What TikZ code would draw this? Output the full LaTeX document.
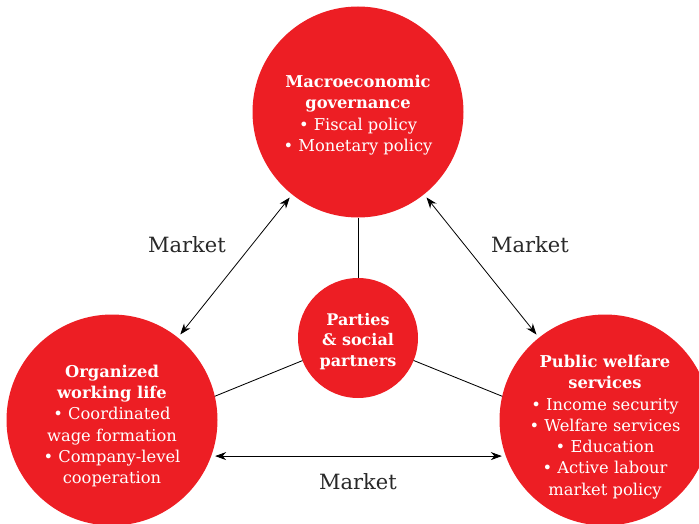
\documentclass[tikz,border=0pt]{standalone}
\usepackage{fontspec}
\setmainfont{DejaVu Serif}
\usepackage{tikz}
\usetikzlibrary{arrows.meta}

\begin{document}
\begin{tikzpicture}[x=1pt, y=-1pt,
    bigcircle/.style={circle, fill=myred, minimum size=211pt, inner sep=0pt, outer sep=0pt},
    smallcircle/.style={circle, fill=myred, minimum size=120pt, inner sep=0pt, outer sep=0pt},
    bigtext/.style={text=white, align=center, font=\fontsize{16.3}{21.3}\selectfont},
    smalltext/.style={text=white, align=center, font=\fontsize{16}{20.5}\selectfont\bfseries},
    market/.style={text=mygray, font=\fontsize{21}{24}\selectfont},
    link/.style={line width=0.85pt},
    marketarrow/.style={line width=0.8pt, {Stealth[length=11pt,width=8pt]}-{Stealth[length=11pt,width=8pt]},
        shorten >=4pt, shorten <=4pt}]
        \definecolor{myred}{RGB}{237,30,36}
        \definecolor{mygray}{RGB}{40,40,40}
        \useasboundingbox (0,0) rectangle (699,524);

        % The three big circles
        \node[bigcircle] (macro) at (358,112) {};
        \node[bigcircle] (work) at (112,420) {};
        \node[bigcircle] (welfare) at (605,420) {};

        % The circle in the middle
        \node[smallcircle] (parties) at (358,338) {};

        % Texts in the circles
        \node[bigtext] (macrotext) at ([yshift=-3pt]macro)
            {\textbf{Macroeconomic}\\\textbf{governance}\\• Fiscal policy\\• Monetary policy};
        \node[bigtext] (worktext) at ([yshift=-6pt]work)
            {\textbf{Organized}\\\textbf{working life}\\• Coordinated\\wage formation\\• Company-level\\cooperation};
        \node[bigtext] (welfaretext) at ([yshift=-7pt]welfare)
            {\textbf{Public welfare}\\\textbf{services}\\• Income security\\• Welfare services\\• Education\\• Active labour\\market policy};
        \node[smalltext] (partiestext) at ([yshift=-3.5pt]parties) {Parties\\\& social\\partners};

        % Lines from the middle
        \draw[link] (parties) -- (macro);
        \draw[link] (parties) -- (work.13);
        \draw[link] (parties) -- (welfare.167);

        % Market arrows
        \draw[marketarrow] (work) -- (macro);
        \draw[marketarrow] (welfare) -- (macro);
        \draw[marketarrow] (work.-20.5) -- (welfare.200.5);

        % Market labels
        \node[market] (mleft) at (187,245) {Market};
        \node[market] (mright) at (530,245) {Market};
        \node[market] (mbottom) at (358,482) {Market};
    \end{tikzpicture}
\end{document}
